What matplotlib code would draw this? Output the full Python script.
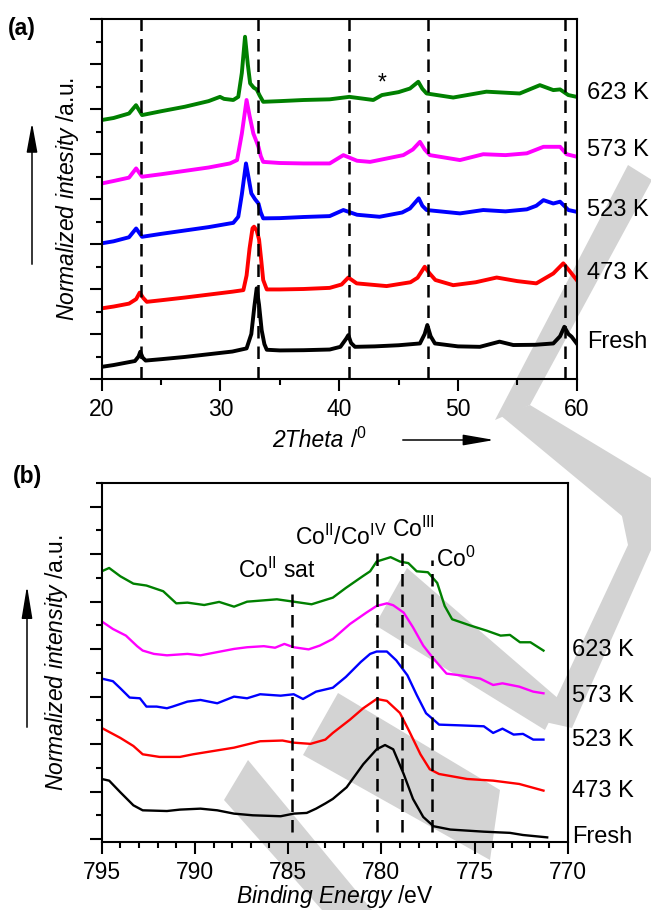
import matplotlib
matplotlib.use('Agg')
import matplotlib.pyplot as plt
from matplotlib.patches import Polygon, FancyArrowPatch
from matplotlib.ticker import MultipleLocator

plt.rcParams['font.family'] = ['Liberation Sans', 'DejaVu Sans']
plt.rcParams['mathtext.fontset'] = 'custom'
plt.rcParams['mathtext.rm'] = 'Liberation Sans'
plt.rcParams['mathtext.it'] = 'Liberation Sans:italic'
plt.rcParams['mathtext.bf'] = 'Liberation Sans:bold'
plt.rcParams['mathtext.default'] = 'regular'

# ---- (a) XRD, 2theta / normalized intensity (offset curves) ----
samples = ['Fresh', '473 K', '523 K', '573 K', '623 K']
colors = ['black', '#ff0000', '#0000ff', '#ff00ff', '#008000']

xrd_fresh = [(20.0, 0.54), (21.0, 0.62), (22.0, 0.72), (22.8, 0.8), (23.1, 1.0), (23.25, 1.21), (23.45, 0.95),
             (23.7, 0.82), (25, 0.88), (27, 0.98), (29, 1.1), (31, 1.22), (32.2, 1.36), (32.6, 2.0), (32.85, 3.2),
             (33.05, 4.03), (33.25, 3.3), (33.47, 2.17), (33.7, 1.55), (33.9, 1.3), (35, 1.27), (37, 1.28),
             (39.2, 1.31), (40.1, 1.43), (40.6, 1.8), (40.77, 1.95), (41.0, 1.6), (41.33, 1.43), (43, 1.45),
             (45, 1.5), (46.8, 1.58), (47.2, 2.0), (47.42, 2.4), (47.7, 1.9), (48.06, 1.58), (50, 1.45),
             (51.85, 1.43), (53.5, 1.66), (54.66, 1.51), (56.5, 1.52), (58.03, 1.58), (58.6, 1.9), (58.96, 2.32),
             (59.3, 2.0), (59.57, 1.88), (60, 1.58)]
xrd_473 = [(20, 3.14), (21, 3.22), (22.3, 3.35), (22.9, 3.55), (23.2, 3.84), (23.5, 3.6), (23.8, 3.43), (25, 3.5),
           (27, 3.62), (29, 3.75), (31, 3.88), (31.93, 3.95), (32.2, 4.6), (32.45, 5.8), (32.7, 6.7), (32.83, 6.77),
           (33.05, 6.6), (33.25, 6.2), (33.45, 5.2), (33.6, 4.4), (33.9, 3.98), (35, 3.98), (37, 4.0), (39.2, 4.05),
           (40.2, 4.2), (40.77, 4.51), (41.47, 4.25), (43.99, 4.13), (46.0, 4.3), (46.6, 4.5), (47.2, 4.99),
           (47.6, 4.7), (48.1, 4.4), (49.6, 4.17), (51.5, 4.3), (53.26, 4.51), (55, 4.35), (56.6, 4.25),
           (58.03, 4.69), (58.87, 5.14), (59.4, 4.8), (60, 4.4)]
xrd_523 = [(20, 6.03), (21, 6.12), (22.3, 6.3), (22.9, 6.69), (23.4, 6.32), (25, 6.45), (27, 6.6), (29, 6.75),
           (31.08, 6.94), (31.5, 7.21), (31.8, 8.2), (32.15, 9.58), (32.35, 9.0), (32.6, 8.25), (32.9, 8.0),
           (33.2, 7.8), (33.4, 7.4), (33.6, 7.14), (35, 7.15), (37, 7.2), (39.2, 7.24), (40.35, 7.51), (41.5, 7.3),
           (43.4, 7.21), (45.3, 7.4), (45.96, 7.58), (46.7, 8.03), (47.0, 7.7), (47.36, 7.51), (50.17, 7.36),
           (52.13, 7.51), (54, 7.45), (55.8, 7.54), (56.6, 7.7), (57.2, 7.95), (58.03, 7.8), (58.6, 7.88),
           (59.3, 7.51), (60, 7.43)]
xrd_573 = [(20, 8.69), (21, 8.8), (22.3, 8.95), (22.9, 9.36), (23.4, 8.99), (25, 9.1), (27, 9.25), (29, 9.4),
           (30.8, 9.58), (31.4, 9.73), (31.8, 10.9), (32.2, 12.4), (32.45, 11.7), (32.77, 10.91), (33.0, 10.6),
           (33.2, 10.32), (33.4, 9.9), (33.6, 9.65), (35, 9.6), (37, 9.58), (39.2, 9.58), (40.35, 9.95), (41.5, 9.7),
           (42.6, 9.65), (44, 9.8), (45.4, 9.95), (46.2, 10.2), (46.8, 10.54), (47.2, 10.2), (47.64, 9.95),
           (50.17, 9.73), (52.13, 9.99), (54, 9.95), (55.8, 10.03), (57.2, 10.32), (58.6, 10.32), (59.15, 9.99),
           (60, 9.88)]
xrd_623 = [(20, 11.51), (21, 11.6), (22.3, 11.8), (22.89, 12.17), (23.4, 11.73), (25, 11.9), (27, 12.1),
           (29, 12.35), (29.96, 12.54), (30.3, 12.45), (31.08, 12.40), (31.5, 12.54), (31.8, 13.6), (32.07, 15.21),
           (32.3, 14.0), (32.5, 13.14), (32.8, 12.95), (33.05, 12.87), (33.3, 12.6), (33.6, 12.32), (35, 12.35),
           (37, 12.4), (39.2, 12.43), (40.85, 12.54), (42.87, 12.4), (43.6, 12.62), (45, 12.75), (45.96, 12.91),
           (46.66, 13.21), (47.0, 12.9), (47.36, 12.69), (49.6, 12.51), (52.4, 12.77), (55.2, 12.69), (56.9, 13.06),
           (58.03, 12.84), (58.6, 12.87), (59.29, 12.62), (60, 12.54)]
xrd_curves = [xrd_fresh, xrd_473, xrd_523, xrd_573, xrd_623]
xrd_label_y = [1.64, 4.71, 7.51, 10.18, 12.71]
xrd_ref_lines = [23.3, 33.2, 40.8, 47.5, 59.0]

# ---- (b) XPS Co 2p3/2, binding energy / normalized intensity ----
xps_fresh = [(795, 2.53), (794.6, 2.46), (794.0, 1.97), (793.3, 1.42), (792.8, 1.21), (791.5, 1.18), (790.8, 1.24),
             (789.7, 1.28), (788.8, 1.21), (787.9, 1.07), (786.9, 1.0), (785.4, 0.96), (784.7, 1.07), (784.0, 1.1),
             (783.5, 1.28), (783.0, 1.5), (782.6, 1.69), (781.86, 2.18), (780.97, 3.15), (780.25, 3.78),
             (779.8, 3.96), (779.36, 3.78), (778.8, 2.74), (778.3, 1.69), (777.75, 0.93), (777.2, 0.54),
             (776.3, 0.40), (774.5, 0.31), (773.1, 0.26), (772.4, 0.17), (771.1, 0.07)]
xps_473 = [(795, 4.68), (794.0, 4.26), (793.3, 3.92), (792.8, 3.57), (791.9, 3.46), (790.8, 3.46), (790.1, 3.57),
           (789.0, 3.71), (787.9, 3.85), (786.5, 4.12), (785.3, 4.15), (784.7, 4.06), (783.8, 4.01), (783.0, 4.19),
           (782.6, 4.47), (781.68, 5.03), (780.97, 5.51), (780.25, 5.9), (779.7, 5.82), (779.0, 5.31),
           (778.5, 4.54), (777.9, 3.57), (777.4, 2.94), (776.9, 2.74), (775.4, 2.53), (774.0, 2.46), (772.6, 2.32),
           (771.3, 2.04)]
xps_523 = [(795, 6.76), (794.4, 6.65), (794.0, 6.35), (793.5, 5.96), (792.95, 5.93), (792.6, 5.58), (792.05, 5.58),
           (791.5, 5.51), (791.2, 5.58), (790.4, 5.79), (789.7, 5.86), (788.8, 5.72), (787.9, 6.0), (787.2, 5.93),
           (786.5, 6.1), (785.4, 6.04), (784.7, 6.1), (784.2, 5.9), (783.5, 6.21), (782.6, 6.375), (781.9, 6.83),
           (781.1, 7.46), (780.6, 7.8), (780.25, 7.9), (779.7, 7.9), (779.2, 7.53), (778.6, 6.9), (778.1, 6.07),
           (777.6, 5.3), (777.2, 5.03), (776.9, 4.82), (775.8, 4.79), (774.5, 4.75), (774.0, 4.47), (773.5, 4.65),
           (772.9, 4.4), (772.4, 4.43), (771.85, 4.19), (771.3, 4.19)]
xps_573 = [(795, 9.17), (794.4, 8.85), (793.7, 8.57), (793.1, 8.125), (792.8, 7.94), (792.2, 7.8), (791.5, 7.74),
           (790.4, 7.8), (789.7, 7.74), (788.8, 7.875), (787.9, 8.01), (787.2, 8.08), (786.3, 8.125), (785.7, 8.06),
           (785.2, 8.22), (784.7, 8.08), (783.9, 7.99), (783.3, 8.15), (782.6, 8.43), (781.68, 9.06), (780.8, 9.54),
           (780.25, 9.82), (779.7, 9.93), (779.36, 9.85), (778.8, 9.54), (778.3, 8.92), (777.75, 8.15), (777.2, 7.6),
           (776.5, 6.97), (775.8, 6.9), (774.7, 6.76), (774.0, 6.49), (773.5, 6.56), (772.6, 6.42), (771.85, 6.21),
           (771.3, 6.14)]
xps_623 = [(795, 11.28), (794.6, 11.42), (794.0, 11.07), (793.3, 10.76), (792.6, 10.68), (791.7, 10.44),
           (791.0, 9.93), (790.4, 9.96), (789.5, 9.86), (788.7, 9.99), (787.9, 9.79), (787.2, 10.0), (785.6, 10.1),
           (784.7, 10.0), (783.74, 9.89), (782.6, 10.17), (781.9, 10.58), (781.0, 11.07), (780.6, 11.28),
           (780.25, 11.69), (779.5, 11.875), (779.0, 11.69), (778.55, 11.625), (778.1, 11.28), (777.5, 11.24),
           (777.0, 10.79), (776.6, 9.82), (776.2, 9.26), (775.2, 8.99), (774.35, 8.78), (773.6, 8.57), (773.1, 8.6),
           (772.56, 8.29), (772.0, 8.29), (771.3, 7.94)]
xps_curves = [xps_fresh, xps_473, xps_523, xps_573, xps_623]
xps_label_y = [0.08, 2.04, 4.17, 6.04, 7.96]

xps_ref_pos = [784.8, 780.25, 778.9, 777.3]
xps_ref_top = [10.67, 12.17, 12.375, 11.75]

W, H = 651, 910
fig = plt.figure(figsize=(W / 100, H / 100), dpi=100)


def px(x, y):
    return (x / W, 1 - y / H)


# watermark shapes (light grey, behind everything)
wm = [
    [(628, 165), (652, 180), (530, 405), (495, 420)],
    [(500, 415), (530, 405), (651, 478), (651, 540)],
    [(407, 568), (560, 700), (545, 730), (375, 625)],
    [(612, 468), (651, 480), (651, 550), (572, 728), (545, 722), (628, 545)],
    [(338, 693), (500, 790), (490, 860), (303, 755)],
    [(248, 760), (372, 910), (322, 910), (224, 800)],
]
for poly in wm:
    fig.patches.append(Polygon([px(*p) for p in poly], closed=True, transform=fig.transFigure,
                               facecolor='#d3d3d3', edgecolor='none', zorder=-5))

ax1 = fig.add_axes([101.7 / W, 1 - 379 / H, 475 / W, 360 / H])
ax2 = fig.add_axes([101.7 / W, 1 - 842 / H, 466 / W, 359 / H])

fs = 16.5
for ax in (ax1, ax2):
    ax.patch.set_alpha(0)
    for s in ax.spines.values():
        s.set_linewidth(1.5)
    ax.tick_params(which='both', direction='out', width=1.5, right=False, top=False,
                   labelsize=fs, pad=5)
    ax.tick_params(which='major', length=8.6)
    ax.tick_params(which='minor', length=4.3)
    ax.tick_params(axis='y', labelleft=False)

# (a)
for c, col in zip(xrd_curves, colors):
    ax1.plot([p[0] for p in c], [p[1] for p in c], color=col, lw=2.8, solid_joinstyle='round')
for x in xrd_ref_lines:
    ax1.axvline(x, color='black', lw=1.8, ls=(0, (5, 3.2)))
ax1.set_xlim(20, 60)
ax1.set_ylim(0, 16)
ax1.xaxis.set_major_locator(MultipleLocator(10))
ax1.xaxis.set_minor_locator(MultipleLocator(5))
ax1.yaxis.set_major_locator(MultipleLocator(2))
ax1.yaxis.set_minor_locator(MultipleLocator(1))
for lab, y in zip(samples, xrd_label_y):
    ax1.text(1.022, y, lab, transform=ax1.get_yaxis_transform(), va='center', ha='left', fontsize=17)
ax1.text(43.6, 13.15, '*', ha='center', va='center', fontsize=fs)
ax1.set_ylabel(r'$\mathit{Normalized\ intesity}$ /a.u.', fontsize=fs)
ax1.yaxis.set_label_coords(-0.044, 0.5)

# x label of (a): italic part + upright unit, placed side by side
t1 = fig.text(272 / W, 1 - 440 / H, '2Theta ', style='italic', ha='left', va='center', fontsize=fs)
fig.canvas.draw()
bb = t1.get_window_extent()
fig.text(bb.x1 / W, 1 - 440 / H, r'/$^{0}$', ha='left', va='center', fontsize=fs)

# (b)
for c, col in zip(xps_curves, colors):
    ax2.plot([p[0] for p in c], [p[1] for p in c], color=col, lw=1.7, solid_joinstyle='round')
ax2.vlines(xps_ref_pos, 0.3, xps_ref_top, colors='black', lw=1.8, linestyles=[(0, (5, 3.2))])
ax2.set_xlim(795, 770)
ax2.set_ylim(-0.125, 15)
ax2.xaxis.set_major_locator(MultipleLocator(5))
ax2.xaxis.set_minor_locator(MultipleLocator(1))
ax2.yaxis.set_major_locator(MultipleLocator(2))
ax2.yaxis.set_minor_locator(MultipleLocator(1))
for lab, y in zip(samples, xps_label_y):
    ax2.text(1.009, y, lab, transform=ax2.get_yaxis_transform(), va='center', ha='left', fontsize=17)
ax2.text(785.6, 11.33, r'Co$^{II}$ sat', ha='center', va='center', fontsize=fs)
ax2.text(779.7, 12.7, r'Co$^{II}$/Co$^{IV}$', ha='right', va='center', fontsize=fs)
ax2.text(779.42, 13.04, r'Co$^{III}$', ha='left', va='center', fontsize=fs)
ax2.text(777.06, 11.79, r'Co$^{0}$', ha='left', va='center', fontsize=fs)
ax2.set_xlabel(r'$\mathit{Binding\ Energy}$ /eV', fontsize=fs, labelpad=-1)
ax2.set_ylabel(r'$\mathit{Normalized\ intensity}$ /a.u.', fontsize=fs)
ax2.yaxis.set_label_coords(-0.068, 0.5)

# arrows and panel letters
for a, b, hl in [((32, 267), (32, 120), 18), ((27, 730), (27, 583), 20), ((400, 440), (497, 440), 19)]:
    fig.patches.append(FancyArrowPatch(px(*a), px(*b), transform=fig.transFigure,
                                       arrowstyle=f'-|>,head_length={hl},head_width=3.3',
                                       mutation_scale=1, lw=1.1, color='black'))
fig.text(8 / W, 1 - 28 / H, '(a)', fontsize=fs, fontweight='bold', va='center')
fig.text(13 / W, 1 - 477 / H, '(b)', fontsize=fs, fontweight='bold', va='center')

fig.savefig('out.png', dpi=100)
